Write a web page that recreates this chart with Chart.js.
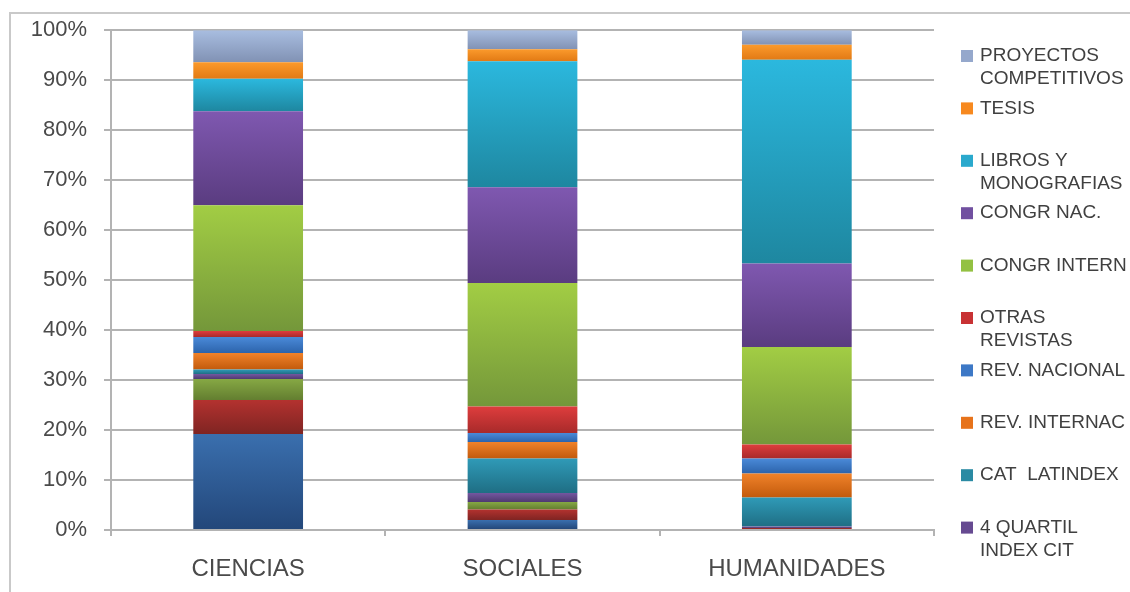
<!DOCTYPE html>
<html>
<head>
<meta charset="utf-8">
<script src="https://cdn.jsdelivr.net/npm/chart.js@4/dist/chart.umd.min.js"></script>
<style>
  html, body { margin: 0; padding: 0; background: #ffffff; }
  #wrap { position: relative; width: 1130px; height: 592px; overflow: hidden; }
  #frame { position: absolute; left: 9px; top: 12px; width: 1130px; height: 600px;
           border-left: 2px solid #c9c9c9; border-top: 2px solid #c9c9c9; pointer-events: none; }
  canvas { position: absolute; left: 0; top: 0; }
</style>
</head>
<body>
<div id="wrap">
  <canvas id="c" width="1130" height="592"></canvas>
  <div id="frame"></div>
</div>
<script>
// ---- DATA ----
const categories = ["CIENCIAS", "SOCIALES", "HUMANIDADES"];
const yTickValues = [0, 10, 20, 30, 40, 50, 60, 70, 80, 90, 100];

// series, bottom of stack first; values in % per category
const q1IndexCit     = [19.2, 2.0, 0.0];
const q2IndexCit     = [6.8, 2.1, 0.4];
const q3IndexCit     = [4.2, 1.5, 0.0];
const q4IndexCit     = [1.0, 1.8, 0.3];
const catLatindex    = [0.9, 6.9, 5.8];
const revInternac    = [3.3, 3.3, 4.8];
const revNacional    = [3.2, 1.8, 3.0];
const otrasRevistas  = [1.2, 5.3, 2.8];
const congrIntern    = [25.2, 24.7, 19.5];
const congrNac       = [18.8, 19.2, 16.7];
const librosMonog    = [6.5, 25.2, 40.8];
const tesis          = [3.3, 2.4, 3.0];
const proyectosComp  = [6.4, 3.8, 2.9];

const seriesNames = [
  "1 QUARTIL\nINDEX CIT", "2 QUARTIL\nINDEX CIT", "3 QUARTIL\nINDEX CIT",
  "4 QUARTIL\nINDEX CIT", "CAT  LATINDEX", "REV. INTERNAC", "REV. NACIONAL",
  "OTRAS\nREVISTAS", "CONGR INTERN", "CONGR NAC.", "LIBROS Y\nMONOGRAFIAS",
  "TESIS", "PROYECTOS\nCOMPETITIVOS"
];
const seriesValues = [
  q1IndexCit, q2IndexCit, q3IndexCit, q4IndexCit, catLatindex, revInternac,
  revNacional, otrasRevistas, congrIntern, congrNac, librosMonog, tesis, proyectosComp
];
// number of bottom series not listed in the legend
const hiddenInLegend = 3;

// ---- STYLES ----
const seriesColors = [
  ["#3a6fae", "#23477a"], // 1Q
  ["#b3322f", "#7f2422"], // 2Q
  ["#86a844", "#637e30"], // 3Q
  ["#7457a0", "#4e3a70"], // 4Q
  ["#2f9ab7", "#1f6e84"], // latindex
  ["#f0822a", "#c25a0c"], // rev internac
  ["#4a8ad8", "#2c63ab"], // rev nacional
  ["#de3d3d", "#a82a2a"], // otras
  ["#a2cd44", "#74973a"], // congr intern
  ["#7f58b0", "#5a3c80"], // congr nac
  ["#2bb8de", "#1e87a0"], // libros
  ["#fb9a2c", "#e27a14"], // tesis
  ["#a8bde0", "#8192b4"]  // proyectos
];
const legendBox = ["#3b6eb4","#a23a38","#89ad4c","#664a91","#2a8aa3","#e7731b","#3d78c6","#c83234","#93c142","#7150a0","#2aa9cd","#f7891f","#95a8cc"];

const gradientPlugin = {
  id: 'grad',
  beforeDatasetsDraw(chart) {
    const ctx = chart.ctx;
    chart.data.datasets.forEach((ds, di) => {
      const meta = chart.getDatasetMeta(di);
      meta.data.forEach(el => {
        const top = Math.min(el.y, el.base), bot = Math.max(el.y, el.base);
        if (!(bot - top > 0)) return;
        const g = ctx.createLinearGradient(0, top, 0, bot);
        g.addColorStop(0, seriesColors[di][0]);
        g.addColorStop(1, seriesColors[di][1]);
        el.options = Object.assign({}, el.options, { backgroundColor: g });
      });
    });
  }
};

const legendPlugin = {
  id: 'sideLegend',
  afterDraw(chart) {
    const ctx = chart.ctx;
    ctx.save();
    ctx.font = '19px "Liberation Sans", Arial, sans-serif';
    ctx.fillStyle = '#404040';
    ctx.textBaseline = 'middle';
    ctx.textAlign = 'left';
    const n = chart.data.datasets.length;
    let k = 0;
    for (let i = n - 1; i >= hiddenInLegend; i--, k++) {
      const yc = 56 + k * 52.4;
      ctx.fillStyle = legendBox[i];
      ctx.fillRect(961, yc - 6, 12, 12);
      ctx.fillStyle = '#404040';
      const lines = chart.data.datasets[i].label.split('\n');
      lines.forEach((ln, j) => ctx.fillText(ln, 980, yc + j * 23));
    }
    ctx.restore();
  }
};

const gridColor = '#b3b3b3';

new Chart(document.getElementById('c'), {
  type: 'bar',
  data: {
    labels: categories,
    datasets: seriesValues.map((vals, i) => ({
      label: seriesNames[i],
      data: vals,
      backgroundColor: legendBox[i],
      borderWidth: 0,
      barPercentage: 0.4,
      categoryPercentage: 1.0
    }))
  },
  options: {
    responsive: false,
    animation: false,
    layout: { padding: { left: 10, right: 196, top: 28, bottom: 0 } },
    plugins: { legend: { display: false }, tooltip: { enabled: false } },
    scales: {
      x: {
        stacked: true,
        offset: true,
        afterFit(scale) { scale.height = 62; },
        grid: { display: true, drawOnChartArea: false, offset: true, tickLength: 6, color: gridColor, lineWidth: 2 },
        border: { display: true, color: gridColor, width: 2 },
        ticks: { padding: 19, color: '#4a4a4a', font: { family: '"Liberation Sans", Arial, sans-serif', size: 24 } }
      },
      y: {
        stacked: true,
        min: 0, max: 100,
        afterFit(scale) { scale.width = 101; },
        afterBuildTicks(scale) { scale.ticks = yTickValues.map(v => ({ value: v })); },
        grid: { color: gridColor, lineWidth: 2, tickLength: 7 },
        border: { display: true, color: gridColor, width: 2 },
        ticks: {
          padding: 17, color: '#4a4a4a',
          font: { family: '"Liberation Sans", Arial, sans-serif', size: 22 },
          callback: v => v + '%'
        }
      }
    }
  },
  plugins: [gradientPlugin, legendPlugin]
});
</script>
</body>
</html>
